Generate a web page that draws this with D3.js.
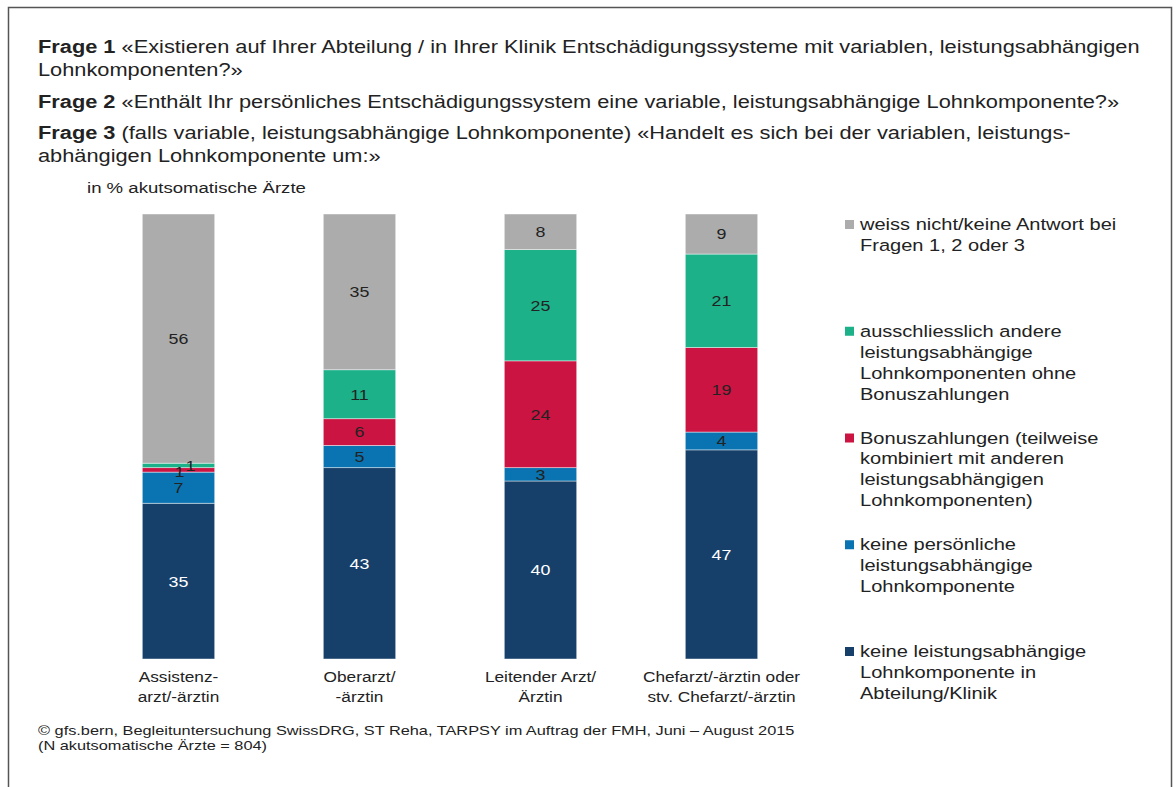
<!DOCTYPE html>
<html>
<head>
<meta charset="utf-8">
<script src="https://cdn.jsdelivr.net/npm/d3@7"></script>
<style>
  body { margin: 0; background: #fff; }
  text { font-family: "Liberation Sans", Arial, Helvetica, sans-serif; fill: #222; }
</style>
</head>
<body>
<svg width="1176" height="787"></svg>
<script>
// categories (x axis) and stacked series, bottom to top
var categories = [
  ["Assistenz-", "arzt/-ärztin"],
  ["Oberarzt/", "-ärztin"],
  ["Leitender Arzt/", "Ärztin"],
  ["Chefarzt/-ärztin oder", "stv. Chefarzt/-ärztin"]
];
var keineKomponente = [35, 43, 40, 47];
var keinePersoenliche = [7, 5, 3, 4];
var bonus = [1, 6, 24, 19];
var andere = [1, 11, 25, 21];
var weissNicht = [56, 35, 8, 9];

var seriesNames = ["keine", "persoenlich", "bonus", "andere", "weiss"];
var seriesValues = [keineKomponente, keinePersoenliche, bonus, andere, weissNicht];
var seriesColors = ["#16406a", "#0a73b1", "#cc1443", "#1cb189", "#acacac"];

var legendLabels = [
  ["weiss nicht/keine Antwort bei", "Fragen 1, 2 oder 3"],
  ["ausschliesslich andere", "leistungsabhängige", "Lohnkomponenten ohne", "Bonuszahlungen"],
  ["Bonuszahlungen (teilweise", "kombiniert mit anderen", "leistungsabhängigen", "Lohnkomponenten)"],
  ["keine persönliche", "leistungsabhängige", "Lohnkomponente"],
  ["keine leistungsabhängige", "Lohnkomponente in", "Abteilung/Klinik"]
];

var svg = d3.select("svg");

// the source picture uses a wide face; stretch text horizontally
function label(x, y, size, sx, anchor) {
  return svg.append("g")
      .attr("transform", "translate(" + x + "," + y + ") scale(" + sx + ",1)")
    .append("text")
      .attr("text-anchor", anchor || "start")
      .style("font-size", size + "px");
}

// frame
svg.append("path")
  .attr("d", "M8.5,787 V7.5 H1171.5 V787")
  .attr("fill", "none")
  .attr("stroke", "#555")
  .attr("stroke-width", 1.5);

// questions
var questions = [
  {y: 53, bold: "Frage 1", rest: " «Existieren auf Ihrer Abteilung / in Ihrer Klinik Entschädigungssysteme mit variablen, leistungsabhängigen"},
  {y: 76, bold: "", rest: "Lohnkomponenten?»"},
  {y: 108, bold: "Frage 2", rest: " «Enthält Ihr persönliches Entschädigungssystem eine variable, leistungsabhängige Lohnkomponente?»"},
  {y: 139, bold: "Frage 3", rest: " (falls variable, leistungsabhängige Lohnkomponente) «Handelt es sich bei der variablen, leistungs-"},
  {y: 162, bold: "", rest: "abhängigen Lohnkomponente um:»"}
];
questions.forEach(function(q) {
  var t = label(38, q.y, 17.5, 1.245);
  if (q.bold) t.append("tspan").style("font-weight", "bold").text(q.bold);
  t.append("tspan").text(q.rest);
});

label(87, 193, 15, 1.24).text("in % akutsomatische Ärzte");

var x = d3.scaleBand()
  .domain(d3.range(categories.length))
  .range([88, 812])
  .paddingInner(0.6)
  .paddingOuter(0.3);

var y = d3.scaleLinear()
  .domain([0, 100])
  .range([659, 214]);

var table = categories.map(function(c, i) {
  var row = {i: i};
  seriesNames.forEach(function(n, k) { row[n] = seriesValues[k][i]; });
  return row;
});

var stacked = d3.stack().keys(seriesNames)(table);

var layer = svg.selectAll("g.layer")
  .data(stacked)
  .enter().append("g")
    .attr("class", "layer")
    .attr("fill", function(d, k) { return seriesColors[k]; });

layer.selectAll("rect")
  .data(function(d) { return d; })
  .enter().append("rect")
    .attr("x", function(d) { return x(d.data.i); })
    .attr("width", x.bandwidth())
    .attr("y", function(d) { return y(d[1]); })
    .attr("height", function(d) { return y(d[0]) - y(d[1]); })
    .attr("stroke", "#fff")
    .attr("stroke-opacity", 0.55)
    .attr("stroke-width", 0.8);

// value labels
stacked.forEach(function(s, k) {
  s.forEach(function(d) {
    var v = d[1] - d[0];
    var dx = 0, dy = 0;
    if (v < 2 && k === 2) { dx = 1; dy = 2; }
    if (v < 2 && k === 3) { dx = 12; dy = 0; }
    label(x(d.data.i) + x.bandwidth() / 2 + dx, (y(d[0]) + y(d[1])) / 2 + dy, 15.5, 1.15, "middle")
      .attr("dy", "0.35em")
      .style("fill", k === 0 ? "#fff" : "#222")
      .text(v);
  });
});

// category labels
categories.forEach(function(c, i) {
  var t = label(x(i) + x.bandwidth() / 2, 682, 15, 1.15, "middle");
  c.forEach(function(line, j) {
    t.append("tspan")
      .attr("x", 0)
      .attr("dy", j === 0 ? 0 : 20)
      .text(line);
  });
});

// legend, top entry = top of stack
legendLabels.forEach(function(lines, i) {
  var ly = 230 + i * 106.75;
  svg.append("rect")
    .attr("x", 845).attr("y", ly - 10)
    .attr("width", 9).attr("height", 9)
    .attr("fill", seriesColors[seriesColors.length - 1 - i]);
  label(860, ly, 17, 1.18)
    .selectAll("tspan")
    .data(lines)
    .enter().append("tspan")
      .attr("x", 0)
      .attr("y", function(d, j) { return j * 21; })
      .text(function(d) { return d; });
});

// source
label(38, 735, 13.5, 1.21)
  .text("© gfs.bern, Begleituntersuchung SwissDRG, ST Reha, TARPSY im Auftrag der FMH, Juni – August 2015");
label(38, 750, 13.5, 1.21)
  .text("(N akutsomatische Ärzte = 804)");
</script>
</body>
</html>
